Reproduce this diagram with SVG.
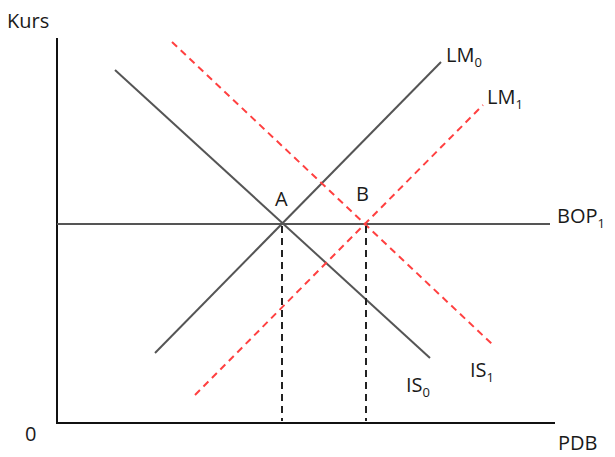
<svg xmlns="http://www.w3.org/2000/svg" width="615" height="457" viewBox="0 0 615 457">
<style>
text{font-family:"Open Sans","Liberation Sans",sans-serif;font-size:20px;fill:#1a1a1a}
.sub{font-size:13px}
.axis{stroke:#111;stroke-width:2;fill:none}
.curve{stroke:#555;stroke-width:2;fill:none}
.red{stroke:#ff4040;stroke-width:2;stroke-dasharray:7,5;fill:none}
.drop{stroke:#222;stroke-width:2;stroke-dasharray:7,5;fill:none}
</style>
<rect width="615" height="457" fill="#fff"/>
<g id="axes">
<path class="axis" d="M57,38 V423 H555"/>
<text x="7" y="28">Kurs</text>
<text x="25" y="441">0</text>
<text x="558" y="450">PDB</text>
</g>
<g id="connectors">
<line class="curve" x1="57" y1="224" x2="550" y2="224"/>
<line class="curve" x1="115" y1="70" x2="430" y2="358"/>
<line class="curve" x1="155" y1="353" x2="441" y2="62"/>
<line class="red" x1="172" y1="42" x2="493" y2="345"/>
<line class="red" x1="195" y1="395" x2="483" y2="105"/>
<line class="drop" x1="282" y1="226" x2="282" y2="421"/>
<line class="drop" x1="366" y1="226" x2="366" y2="421"/>
</g>
<g id="labels">
<text x="275" y="206">A</text>
<text x="356" y="201">B</text>
<text x="446" y="62">LM<tspan class="sub" dy="5">0</tspan></text>
<text x="487" y="104">LM<tspan class="sub" dy="5">1</tspan></text>
<text x="557" y="223">BOP<tspan class="sub" dy="5">1</tspan></text>
<text x="406" y="392">IS<tspan class="sub" dy="5">0</tspan></text>
<text x="470" y="377">IS<tspan class="sub" dy="5">1</tspan></text>
</g>
</svg>
